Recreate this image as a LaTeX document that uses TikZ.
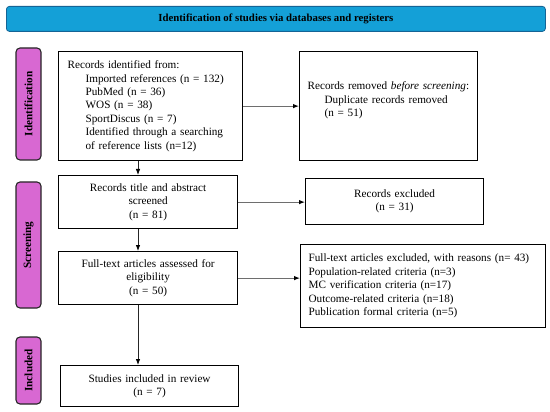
\documentclass[tikz,border=0pt]{standalone}
\usepackage{fontspec}
\setmainfont{Liberation Serif}
\usetikzlibrary{arrows.meta}
\definecolor{hdrblue}{RGB}{20,160,215}
\definecolor{hdredge}{RGB}{20,100,150}
\definecolor{phasefill}{RGB}{216,104,210}
\definecolor{linegray}{RGB}{110,110,110}
\begin{document}
\begin{tikzpicture}[x=1pt,y=-1pt,
  bodyfont/.style={font=\fontsize{11.2}{13.4}\selectfont},
  flowbox/.style={draw=black, line width=1.2pt, fill=white, bodyfont, inner ysep=0pt, anchor=north west},
  phasebox/.style={draw=black!85, line width=1.1pt, fill=phasefill, rounded corners=4pt, rotate=90,
    font=\fontsize{11.2}{12}\selectfont\bfseries, minimum height=25pt, inner sep=0pt},
  harrow/.style={draw=linegray, line width=1pt, -{Latex[length=6pt,width=4.5pt,color=black]}},
  varrow/.style={draw=black!85, line width=0.8pt, -{Latex[length=6pt,width=4.5pt,color=black]}}
]
\useasboundingbox (0,0) rectangle (550,412);

% header
\node[draw=hdredge, line width=0.8pt, fill=hdrblue, rounded corners=3pt, anchor=north west,
      minimum width=539pt, minimum height=25pt, inner sep=0pt,
      font=\fontsize{10.8}{11}\selectfont\bfseries] (hdr) at (6,6)
      {Identification of studies via databases and registers};

% phase labels
\node[phasebox, minimum width=112pt] (pident) at (28.5,104) {Identification};
\node[phasebox, minimum width=126pt] (pscreen) at (28.5,245) {Screening};
\node[phasebox, minimum width=67pt] (pincl) at (28.5,370.5) {Included};

% boxes
\node[flowbox, text width=166pt, inner xsep=9pt, minimum height=109pt, align=left] (ident) at (58,51)
  {Records identified from:\\
   \hspace*{18pt}Imported references (n = 132)\\
   \hspace*{18pt}PubMed (n = 36)\\
   \hspace*{18pt}WOS (n = 38)\\
   \hspace*{18pt}SportDiscus (n = 7)\\
   \hspace*{18pt}Identified through a searching\\
   \hspace*{18pt}of reference lists (n=12)};

\node[flowbox, text width=162pt, inner xsep=8pt, minimum height=109pt, align=left] (removed) at (299,51)
  {Records removed \textit{before screening}:\\
   \hspace*{17pt}Duplicate records removed\\
   \hspace*{17pt}(n = 51)\\
   \mbox{}};

\node[flowbox, text width=171pt, inner xsep=4pt, minimum height=53pt, align=center] (title) at (58,175)
  {Records title and abstract\\ screened\\ (n = 81)};

\node[flowbox, text width=170pt, inner xsep=4pt, minimum height=46pt, align=center] (excl) at (305,178)
  {Records excluded\\ (n = 31)};

\node[flowbox, text width=171pt, inner xsep=4pt, minimum height=53pt, align=center] (full) at (58,251)
  {Full-text articles assessed for\\ eligibility\\ (n = 50)};

\node[flowbox, text width=229pt, inner xsep=8pt, minimum height=83pt, align=left] (reasons) at (300,244)
  {Full-text articles excluded, with reasons (n= 43)\\
   Population-related criteria (n=3)\\
   MC verification criteria (n=17)\\
   Outcome-related criteria (n=18)\\
   Publication formal criteria (n=5)};

\node[flowbox, text width=170pt, inner xsep=4pt, minimum height=41pt, align=center] (incl) at (60,365)
  {Studies included in review\\ (n = 7)};

% connectors
\coordinate (vx) at (138,0);
\draw[harrow] (ident.east) -- (ident.east -| removed.west);
\draw[harrow] (title.east) -- (title.east -| excl.west);
\draw[harrow] (full.east) -- (full.east -| reasons.west);
\draw[varrow] (ident.south -| vx) -- (title.north -| vx);
\draw[varrow] (title.south -| vx) -- (full.north -| vx);
\draw[varrow] (full.south -| vx) -- (incl.north -| vx);
\end{tikzpicture}
\end{document}
